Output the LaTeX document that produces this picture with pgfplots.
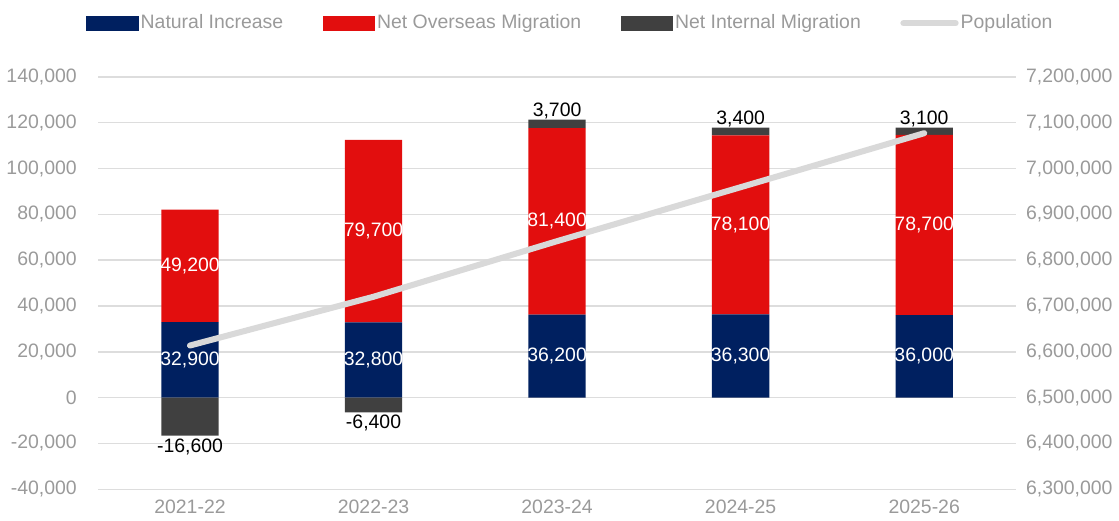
\documentclass[border=0pt]{standalone}
\usepackage{fontspec}
\setmainfont{Liberation Sans}
\usepackage{pgfplots}
\usepackage{pgfplotstable}
\pgfplotsset{compat=1.18}
\definecolor{ni}{HTML}{002060}
\definecolor{nom}{HTML}{E20E0E}
\definecolor{nim}{HTML}{404040}
\definecolor{pop}{HTML}{D9D9D9}
\definecolor{txt}{HTML}{9A9A9A}
\definecolor{gridc}{HTML}{DDDDDD}

\pgfplotstableread{
x NI NOM NIM Pop
0 32900 49200 -16600 6613700
1 32800 79700 -6400 6720100
2 36200 81400 3700 6841400
3 36300 78100 3400 6959200
4 36000 78700 3100 7077000
}\data

\pgfplotsset{
  base/.style={scale only axis, width=684.75pt, height=307.7pt,
    xmin=-0.5, xmax=4.5, ymin=-40000, ymax=140000,
    scaled y ticks=false, major tick length=0pt,
    axis line style={draw=none},
    tick label style={text=txt},
    /pgf/number format/fixed, /pgf/number format/precision=0,
    /pgf/number format/1000 sep={,},
    /pgf/number format/assume math mode=true},
  lbl/.style={only marks, mark=none, point meta=explicit,
    nodes near coords={\pgfmathprintnumber{\pgfplotspointmeta}}},
}

\begin{document}
\fontsize{14.5}{17}\selectfont
\begin{tikzpicture}
% main axis: positive stacked bars, grid, left ticks, legend
\begin{axis}[base, ybar stacked, bar width=42.75pt,
  axis x line*=bottom, axis y line*=left,
  ymajorgrids, grid style={gridc, line width=1.1pt},
  ytick={-40000,-20000,0,20000,40000,60000,80000,100000,120000,140000},
  xtick={0,1,2,3,4},
  xticklabels={2021-22,2022-23,2023-24,2024-25,2025-26},
  x tick label style={yshift=-3pt},
  y tick label style={xshift=-11pt},
  legend columns=-1,
  legend style={at={(0.5,1)}, anchor=center, yshift=40pt, xshift=10pt, draw=none, fill=none,
    text=txt, /tikz/every even column/.append style={column sep=28pt},
    nodes={inner xsep=1.5pt}},
  legend image code/.code={\path[#1, draw=none] (0pt,-5.5pt) rectangle (39pt,5.5pt);},
]
\addplot[fill=ni, draw=none] table[x=x, y=NI]{\data};
\addlegendentry{Natural Increase}
\addplot[fill=nom, draw=none] table[x=x, y=NOM]{\data};
\addlegendentry{Net Overseas Migration}
\addplot[fill=nim, draw=none] table[x=x, y expr={max(\thisrow{NIM},0)}]{\data};
\addlegendentry{Net Internal Migration}
\addlegendimage{legend image code/.code={\draw[pop, line width=4.5pt, line cap=round] (2.25pt,0pt) -- (41.25pt,0pt);}}
\addlegendentry{Population}
\end{axis}

% right axis: population line
\begin{axis}[base, ymin=6300000, ymax=7200000,
  axis y line*=right, axis x line=none,
  ytick={6300000,6400000,6500000,6600000,6700000,6800000,6900000,7000000,7100000,7200000},
  y tick label style={xshift=2.5pt},
]
\addplot[pop, line width=4.5pt, line cap=round] table[x=x, y=Pop]{\data};
\end{axis}

% overlay: negative bars and labels
\begin{axis}[base, hide axis]
\addplot[ybar, bar width=42.75pt, bar shift=0pt, fill=nim, draw=none]
  table[x=x, y expr={min(\thisrow{NIM},0)}]{\data};
\addplot[lbl, every node near coord/.append style={text=white, anchor=center}]
  table[x=x, y expr={\thisrow{NI}/2}, meta=NI]{\data};
\addplot[lbl, every node near coord/.append style={text=white, anchor=center}]
  table[x=x, y expr={\thisrow{NI}+\thisrow{NOM}/2}, meta=NOM]{\data};
\addplot[lbl, every node near coord/.append style={text=black, anchor=south, inner sep=0.5pt},
  restrict expr to domain={\thisrow{NIM}}{0:1000000}]
  table[x=x, y expr={\thisrow{NI}+\thisrow{NOM}+\thisrow{NIM}}, meta=NIM]{\data};
\addplot[lbl, every node near coord/.append style={text=black, anchor=north, inner sep=2pt},
  restrict expr to domain={\thisrow{NIM}}{-1000000:0}]
  table[x=x, y=NIM, meta=NIM]{\data};
\end{axis}
\path (current bounding box.north) ++(0,7pt);
\end{tikzpicture}
\end{document}
